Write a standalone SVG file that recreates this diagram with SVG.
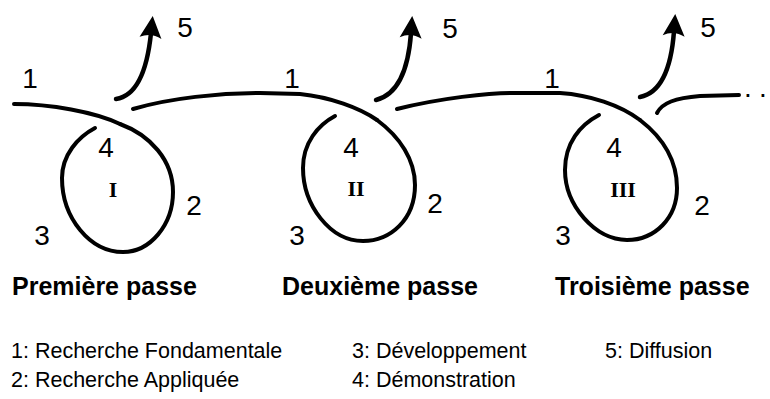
<svg xmlns="http://www.w3.org/2000/svg" width="770" height="399" viewBox="0 0 770 399">
<style>
.ln{fill:none;stroke:#000;stroke-width:4;stroke-linecap:round;stroke-linejoin:round}
.ar{fill:none;stroke:#000;stroke-width:4.5;stroke-linecap:round;marker-end:url(#head)}
.hd{font-family:"Liberation Sans",Arial,sans-serif;font-size:28px;fill:#000;text-anchor:middle}
.rn{font-family:"Liberation Serif","Times New Roman",serif;font-weight:bold;font-size:22px;fill:#000;text-anchor:middle}
.tt{font-family:"Liberation Sans",Arial,sans-serif;font-weight:bold;font-size:25px;fill:#000}
.lg{font-family:"Liberation Sans",Arial,sans-serif;font-size:21.5px;fill:#000}
</style>
<defs>
<marker id="head" markerUnits="userSpaceOnUse" viewBox="-4 -12 26 24" refX="3" refY="0" markerWidth="26" markerHeight="24" orient="auto">
<path d="M20,0 L-2,-11 Q4,0 -2,11 Z" fill="#000"/>
</marker>
</defs>
<g id="connectors">
<path class="ln" d="M14,104 C50,104 95,112 120,124"/>
<path class="ln" d="M133,109 C170,98 220,93 260,93 L300,94 C330,97 360,108 377,120"/>
<path class="ln" d="M397,109 C440,98 490,93 510,93 L560,93 C590,95 620,105 640,120"/>
<path class="ln" d="M657,113 C662,103 675,98 700,96 L739,95"/>
<path class="ar" d="M116,99 C136,96 147,72 151,33"/>
<path class="ar" d="M376,100 C396,95 408,75 411,33"/>
<path class="ar" d="M640,97 C660,93 671,72 674,31"/>
</g>
<g id="pass1">
<path class="ln" d="M120,124 C150,135 173,160 173,192 C173,225 150,252 123,252 C90,252 62,218 62,178 C62,155 78,137 95,128"/>
<text class="hd" x="30" y="88">1</text>
<text class="hd" x="185" y="37">5</text>
<text class="hd" x="106" y="157">4</text>
<text class="hd" x="194" y="215">2</text>
<text class="hd" x="42" y="245">3</text>
<text class="rn" x="113" y="197">I</text>
<text class="tt" x="12" y="295">Première passe</text>
</g>
<g id="pass2">
<path class="ln" d="M377,120 C400,137 415,160 415,185 C415,220 390,241 363,241 C330,241 303,205 303,168 C303,143 318,125 335,116"/>
<text class="hd" x="292" y="88">1</text>
<text class="hd" x="450" y="38">5</text>
<text class="hd" x="351" y="157">4</text>
<text class="hd" x="435" y="213">2</text>
<text class="hd" x="297" y="245">3</text>
<text class="rn" x="356" y="196">II</text>
<text class="tt" x="282" y="295">Deuxième passe</text>
</g>
<g id="pass3">
<path class="ln" d="M640,120 C662,137 677,160 677,188 C677,218 655,240 627,240 C595,240 565,205 565,170 C565,143 580,125 599,115"/>
<text class="hd" x="552" y="88">1</text>
<text class="hd" x="708" y="37">5</text>
<text class="hd" x="614" y="157">4</text>
<text class="hd" x="702" y="215">2</text>
<text class="hd" x="563" y="245">3</text>
<text class="rn" x="623" y="197">III</text>
<text class="tt" x="555" y="295">Troisième passe</text>
<text class="hd" x="744 759" y="97" style="text-anchor:start">..</text>
</g>
<g id="legend">
<text class="lg" x="11" y="358">1: Recherche Fondamentale</text>
<text class="lg" x="11" y="387">2: Recherche Appliquée</text>
<text class="lg" x="352" y="358">3: Développement</text>
<text class="lg" x="352" y="387">4: Démonstration</text>
<text class="lg" x="605" y="358">5: Diffusion</text>
</g>
</svg>
